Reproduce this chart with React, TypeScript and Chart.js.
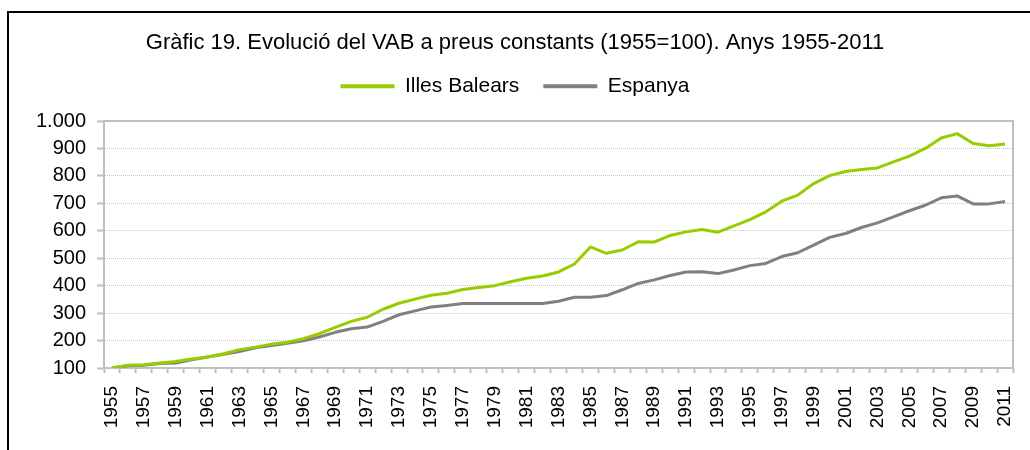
import React, { useEffect, useRef } from "react";
import { Chart, registerables } from "chart.js";

Chart.register(...registerables);

const years: string[] = [
  "1955","1956","1957","1958","1959","1960","1961","1962","1963","1964",
  "1965","1966","1967","1968","1969","1970","1971","1972","1973","1974",
  "1975","1976","1977","1978","1979","1980","1981","1982","1983","1984",
  "1985","1986","1987","1988","1989","1990","1991","1992","1993","1994",
  "1995","1996","1997","1998","1999","2000","2001","2002","2003","2004",
  "2005","2006","2007","2008","2009","2010","2011",
];

const illesBalears: number[] = [
  100, 110, 112, 118, 124, 133, 140, 152, 167, 176,
  187, 194, 207, 225, 248, 270, 285, 314, 336, 351,
  365, 372, 386, 393, 400, 414, 427, 435, 450, 479,
  541, 518, 530, 560, 559, 583, 596, 605, 595, 618,
  641, 669, 708, 730, 772, 801, 816, 823, 829, 851,
  872, 900, 938, 954, 918, 910, 916,
];

const espanya: number[] = [
  100, 108, 110, 116, 118, 130, 140, 150, 160, 174,
  182, 190, 199, 213, 230, 243, 249, 270, 294, 308,
  322, 328, 335, 335, 335, 335, 335, 335, 343, 358,
  358, 364, 385, 408, 421, 437, 450, 451, 444, 457,
  473, 481, 506, 520, 548, 576, 590, 612, 629, 651,
  673, 693, 720, 727, 698, 698, 707,
];

const seriesNames: string[] = ["Illes Balears", "Espanya"];
const seriesColors: string[] = ["#99CC00", "#808080"];
const titleText = "Gràfic 19. Evolució del VAB a preus constants (1955=100). Anys 1955-2011";

const yMin = 100;
const yMax = 1000;
const yStep = 100;

const FONT = "'Liberation Sans', Arial, sans-serif";
const AXIS_GRAY = "#bfbfbf";

const formatThousands = (v: number) =>
  String(v).replace(/\B(?=(\d{3})+(?!\d))/g, ".");

const plotFrame = {
  id: "plotFrame",
  beforeDatasetsDraw(chart: any) {
    const { ctx, chartArea } = chart;
    ctx.save();
    ctx.strokeStyle = AXIS_GRAY;
    ctx.lineWidth = 2;
    ctx.beginPath();
    ctx.moveTo(chartArea.left, chartArea.top);
    ctx.lineTo(chartArea.right, chartArea.top);
    ctx.lineTo(chartArea.right, chartArea.bottom);
    ctx.stroke();
    ctx.restore();
  },
};

const legendSpacing = {
  id: "legendSpacing",
  beforeInit(chart: any) {
    const lg = chart.legend;
    if (lg) {
      const orig = lg.fit;
      lg.fit = function () {
        orig.call(this);
        this.height = 69.2;
      };
    }
  },
};

export default function App() {
  const canvasRef = useRef<HTMLCanvasElement | null>(null);

  useEffect(() => {
    if (!canvasRef.current) return;
    const chart = new Chart(canvasRef.current, {
      type: "line",
      data: {
        labels: years,
        datasets: [
          {
            label: seriesNames[0],
            data: illesBalears,
            borderColor: seriesColors[0],
            backgroundColor: seriesColors[0],
            borderWidth: 3,
            pointRadius: 0,
            tension: 0,
            borderJoinStyle: "round",
          },
          {
            label: seriesNames[1],
            data: espanya,
            borderColor: seriesColors[1],
            backgroundColor: seriesColors[1],
            borderWidth: 3,
            pointRadius: 0,
            tension: 0,
            borderJoinStyle: "round",
          },
        ],
      },
      options: {
        responsive: false,
        animation: false,
        layout: { padding: { left: 17, right: 17, top: 0, bottom: 0 } },
        plugins: {
          tooltip: { enabled: false },
          title: {
            display: true,
            text: titleText,
            color: "#000",
            font: { family: FONT, size: 22, weight: "normal" },
            padding: { top: 29.8, bottom: -4.4 },
          },
          legend: {
            display: true,
            position: "top",
            labels: {
              color: "#000",
              font: { family: FONT, size: 21 },
              boxWidth: 54,
              boxHeight: 4,
              padding: 24,
              generateLabels: (c: any) =>
                c.data.datasets.map((ds: any, i: number) => ({
                  text: ds.label,
                  fillStyle: ds.borderColor,
                  strokeStyle: ds.borderColor,
                  lineWidth: 0,
                  hidden: false,
                  datasetIndex: i,
                  fontColor: "#000",
                })),
            },
          },
        },
        scales: {
          x: {
            type: "category",
            offset: true,
            afterFit: (s: any) => {
              s.height = 82;
              s.paddingLeft = 0;
              s.paddingRight = 0;
            },
            grid: {
              offset: true,
              drawOnChartArea: false,
              drawTicks: true,
              tickLength: 5,
              tickColor: AXIS_GRAY,
              tickWidth: 2,
            },
            border: { color: AXIS_GRAY, width: 2 },
            ticks: {
              autoSkip: false,
              minRotation: 90,
              maxRotation: 90,
              padding: 13,
              color: "#000",
              font: { family: FONT, size: 19 },
              callback: (_v: any, i: number) => (i % 2 === 0 ? years[i] : ""),
            },
          },
          y: {
            min: yMin,
            max: yMax,
            afterFit: (s: any) => {
              s.width = 87;
            },
            grid: {
              color: "#c4c4c4",
              lineWidth: 1,
              drawTicks: true,
              tickLength: 7,
              tickColor: AXIS_GRAY,
              tickWidth: 2,
              tickBorderDash: [],
            },
            border: { color: AXIS_GRAY, width: 2, dash: [1, 1] },
            ticks: {
              stepSize: yStep,
              padding: 11,
              color: "#000",
              font: { family: FONT, size: 20 },
              callback: (v: any) => formatThousands(Number(v)),
            },
          },
        },
      },
      plugins: [plotFrame, legendSpacing],
    } as any);
    return () => chart.destroy();
  }, []);

  return (
    <div
      style={{
        position: "fixed",
        left: 0,
        top: 0,
        width: 1030,
        height: 450,
        overflow: "hidden",
        background: "#fff",
      }}
    >
      <canvas
        ref={canvasRef}
        width={1030}
        height={450}
        style={{ display: "block", width: 1030, height: 450 }}
      />
      <div
        style={{
          position: "absolute",
          left: 7,
          top: 11,
          width: 1200,
          height: 1000,
          borderTop: "2px solid #000",
          borderLeft: "2px solid #000",
          pointerEvents: "none",
        }}
      />
    </div>
  );
}
